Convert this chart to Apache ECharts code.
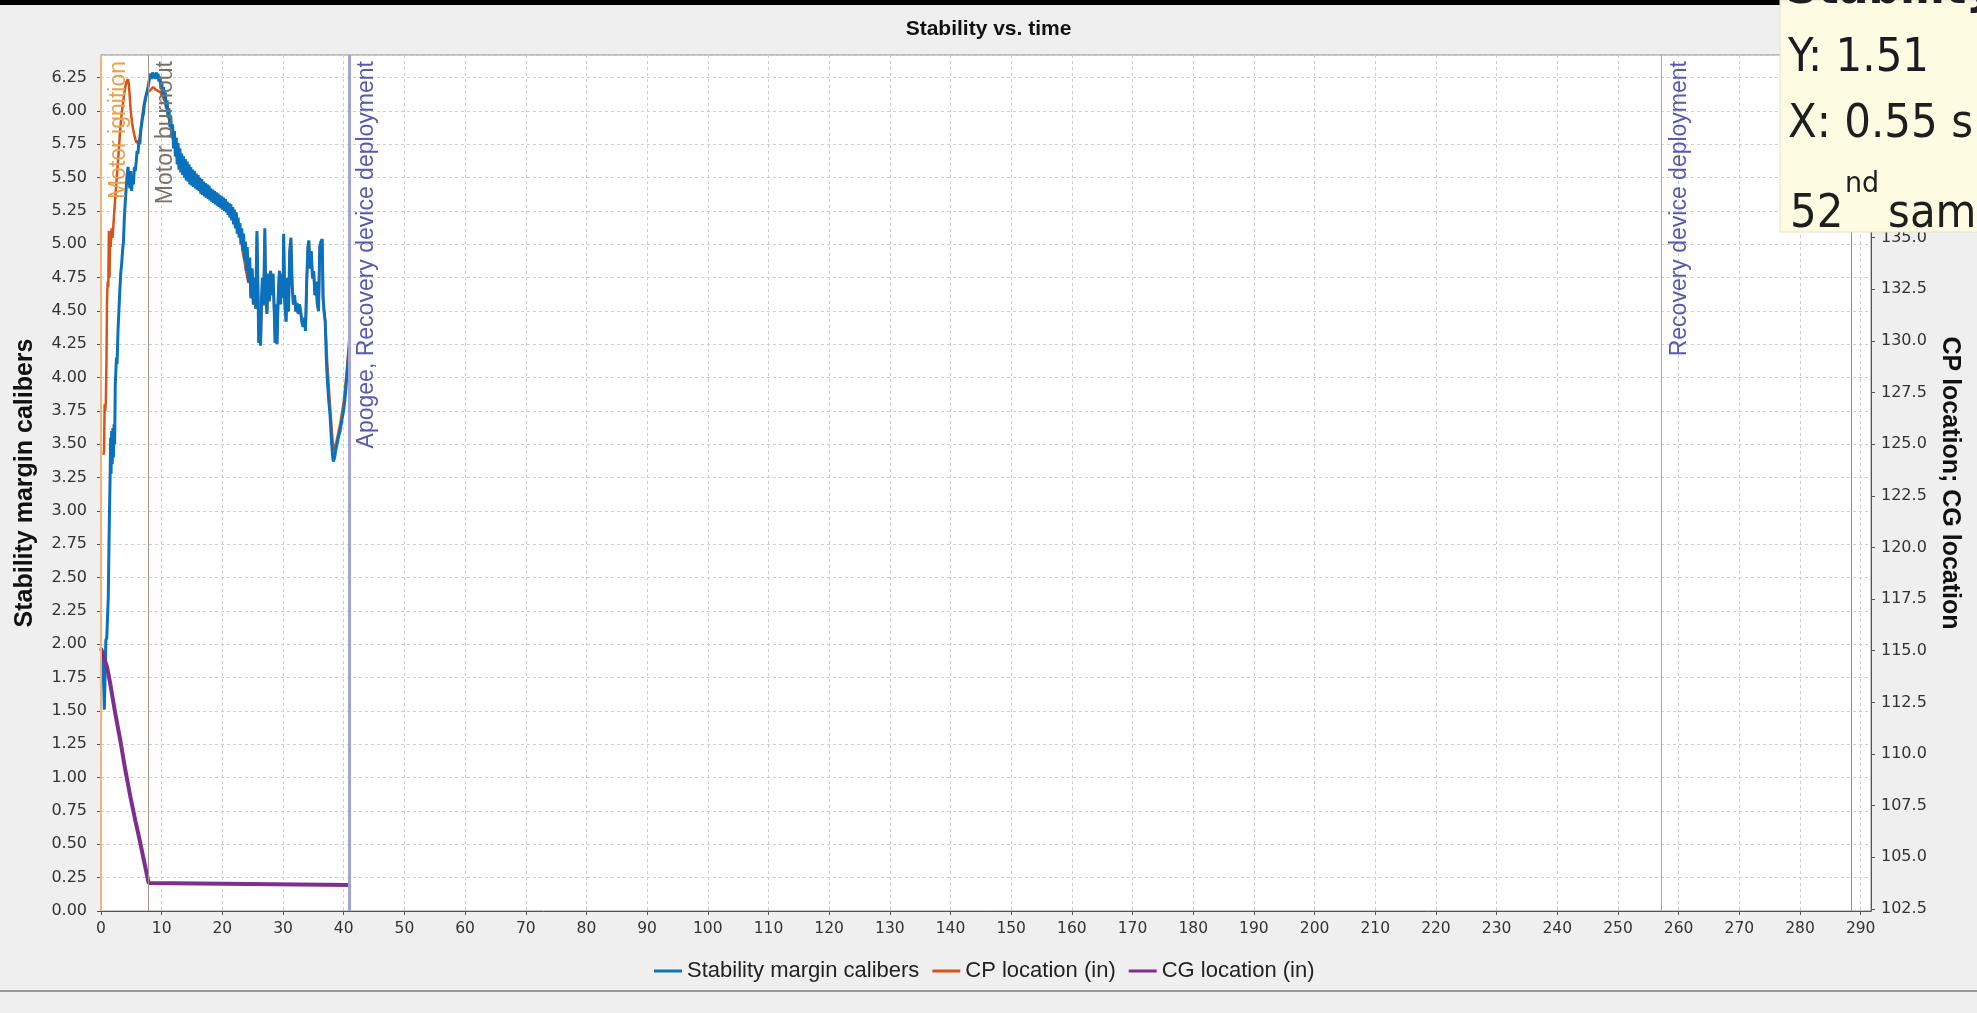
<!DOCTYPE html>
<html>
<head>
<meta charset="utf-8">
<title>Stability vs. time</title>
<script src="https://cdn.jsdelivr.net/npm/echarts@6/dist/echarts.min.js"></script>
<style>
  html, body { margin: 0; padding: 0; background: #efefef; }
  #chart { width: 1977px; height: 1013px; }
</style>
</head>
<body>
<div id="chart"></div>
<script>
// Flight time axis ticks (s)
const timeTicks = [0, 10, 20, 30, 40, 50, 60, 70, 80, 90, 100, 110, 120, 130, 140, 150, 160, 170, 180, 190, 200, 210, 220, 230, 240, 250, 260, 270, 280, 290];
// Right axis tick labels (in)
const locationTicks = [102.5, 105.0, 107.5, 110.0, 112.5, 115.0, 117.5, 120.0, 122.5, 125.0, 127.5, 130.0, 132.5, 135.0, 137.5, 140.0, 142.5];

// Stability margin (calibers) vs. time (s)
const stabilityPoints = [
  [0.30,1.95],[0.42,1.72],[0.55,1.51],[0.68,1.78],[0.80,2.03],[0.95,2.05],[1.10,2.06],[1.20,2.35],
  [1.30,2.70],[1.40,3.00],[1.50,3.25],[1.58,3.55],[1.66,3.28],[1.75,3.60],[1.85,3.35],[1.95,3.62],
  [2.05,3.40],[2.15,3.65],[2.25,3.50],[2.35,3.95],[2.45,4.05],[2.55,4.15],[2.65,4.10],[2.80,4.35],
  [2.95,4.50],[3.10,4.65],[3.25,4.78],[3.40,4.85],[3.55,4.95],[3.70,5.02],[3.85,5.20],[4.00,5.32],
  [4.15,5.42],[4.30,5.52],[4.45,5.58],[4.60,5.50],[4.75,5.42],[4.90,5.55],[5.05,5.40],[5.20,5.50],
  [5.35,5.45],[5.50,5.58],[5.65,5.55],[5.80,5.62],[5.95,5.70],[6.10,5.68],[6.25,5.78],[6.40,5.75],
  [6.55,5.85],[6.70,5.90],[6.85,5.95],[7.00,5.98],[7.15,6.05],[7.30,6.08],[7.45,6.12],[7.60,6.15],
  [7.75,6.18],[7.90,6.22],[8.05,6.26],[8.20,6.28],[8.35,6.24],[8.50,6.29],[8.65,6.25],[8.80,6.28],
  [8.95,6.24],[9.10,6.29],[9.25,6.25],[9.40,6.28],[9.55,6.22],[9.70,6.26],[9.85,6.18],[10.00,6.22],
  [10.15,6.12],[10.30,6.18],[10.45,6.08],[10.60,6.14],[10.75,6.02],[10.90,6.08],[11.05,5.95],[11.20,6.02],
  [11.35,5.88],[11.50,5.96],[11.65,5.80],[11.80,5.90],[11.95,5.72],[12.10,5.85],[12.25,5.66],[12.40,5.80],
  [12.55,5.60],[12.70,5.76],[12.85,5.56],[13.00,5.72],[13.15,5.54],[13.30,5.68],[13.45,5.52],[13.60,5.66],
  [13.75,5.50],[13.90,5.64],[14.05,5.48],[14.20,5.62],[14.35,5.47],[14.50,5.60],[14.65,5.45],[14.80,5.58],
  [14.95,5.44],[15.10,5.56],[15.25,5.43],[15.40,5.55],[15.55,5.42],[15.70,5.53],[15.85,5.41],[16.00,5.52],
  [16.15,5.40],[16.30,5.50],[16.45,5.38],[16.60,5.49],[16.75,5.37],[16.90,5.47],[17.05,5.36],[17.20,5.46],
  [17.35,5.35],[17.50,5.45],[17.65,5.34],[17.80,5.44],[17.95,5.33],[18.10,5.42],[18.25,5.32],[18.40,5.41],
  [18.55,5.31],[18.70,5.40],[18.85,5.30],[19.00,5.39],[19.15,5.29],[19.30,5.38],[19.45,5.28],[19.60,5.37],
  [19.75,5.27],[19.90,5.36],[20.05,5.26],[20.20,5.35],[20.35,5.25],[20.50,5.34],[20.65,5.24],[20.80,5.32],
  [20.95,5.22],[21.10,5.31],[21.25,5.20],[21.40,5.30],[21.55,5.18],[21.70,5.28],[21.85,5.15],[22.00,5.26],
  [22.15,5.12],[22.30,5.24],[22.45,5.08],[22.60,5.20],[22.75,5.05],[22.90,5.16],[23.05,5.00],[23.20,5.12],
  [23.35,4.95],[23.50,5.08],[23.65,4.88],[23.80,5.02],[23.95,4.80],[24.10,4.98],[24.30,4.72],[24.50,4.90],
  [24.70,4.60],[24.90,4.82],[25.10,4.55],[25.30,4.75],[25.50,4.52],[25.70,5.10],[25.85,4.70],[26.00,4.26],
  [26.15,4.50],[26.30,4.24],[26.45,4.60],[26.60,4.75],[26.80,4.55],[27.00,5.12],[27.15,4.62],[27.35,4.48],
  [27.55,4.78],[27.75,4.58],[27.95,4.80],[28.15,4.62],[28.35,4.78],[28.55,4.50],[28.70,4.26],[28.85,4.55],
  [29.00,4.25],[29.20,4.60],[29.40,4.80],[29.60,4.55],[29.80,4.78],[30.00,4.60],[30.10,5.08],[30.30,4.55],
  [30.50,4.42],[30.70,4.75],[30.90,4.50],[31.10,4.95],[31.30,5.05],[31.50,4.70],[31.70,4.55],[31.90,4.62],
  [32.10,4.50],[32.30,4.56],[32.50,4.48],[32.70,4.55],[32.90,4.50],[33.10,4.42],[33.30,4.38],[33.50,4.45],
  [33.70,4.35],[33.90,4.72],[34.10,4.98],[34.25,5.03],[34.45,4.82],[34.65,4.95],[34.85,4.75],[35.05,4.80],
  [35.25,4.62],[35.45,4.72],[35.65,4.55],[35.85,4.50],[36.05,4.98],[36.25,5.02],[36.45,5.04],[36.60,4.60],
  [36.75,4.50],[36.95,4.42],[37.15,4.12],[37.35,3.95],[37.55,3.82],[37.75,3.72],[37.95,3.55],[38.15,3.42],
  [38.30,3.37],[38.50,3.40],[38.70,3.46],[38.90,3.50],[39.10,3.55],[39.40,3.60],[39.70,3.68],[40.00,3.76],
  [40.25,3.86],[40.50,4.00],[40.70,4.12],[40.90,4.23]
];

// CP location (in) vs. time (s), right axis
const cpPoints = [
  [0.40,124.48],[0.50,124.67],[0.60,126.93],[0.70,126.61],[0.80,127.06],[0.90,128.99],[1.00,132.09],[1.10,132.87],
  [1.20,132.61],[1.30,135.32],[1.40,133.06],[1.50,134.98],[1.60,134.55],[1.75,135.45],[1.90,134.98],[2.05,135.64],
  [2.20,136.29],[2.40,137.13],[2.60,137.90],[2.80,138.68],[3.00,139.52],[3.20,140.36],[3.40,141.00],[3.60,141.45],
  [3.80,141.91],[4.00,142.29],[4.20,142.55],[4.45,142.67],[4.60,142.40],[4.75,141.78],[4.90,141.13],[5.10,140.61],
  [5.30,140.22],[5.50,139.97],[5.70,139.71],[5.90,139.58],[6.10,139.52],[6.30,139.71],[6.50,140.16],[6.70,140.61],
  [6.90,141.13],[7.10,141.51],[7.30,141.78],[7.50,141.91],[7.70,142.03],[7.90,142.10],[8.20,142.16],[8.60,142.29],
  [9.00,142.16],[9.40,142.10],[9.80,142.03],[10.50,141.65],[11.00,141.00],[11.50,140.36],[12.00,139.58],[12.50,138.94],
  [13.00,138.55],[13.50,138.29],[14.00,138.10],[15.00,137.84],[16.00,137.58],[17.00,137.26],[18.00,137.06],[19.00,136.81],
  [20.00,136.61],[21.00,136.35],[22.00,135.97],[23.00,135.19],[23.35,134.30],[23.65,133.85],[23.95,133.30],[24.30,132.80],
  [24.50,133.95],[24.70,132.05],[24.90,133.45],[25.10,131.75],[25.30,133.00],[25.50,131.55],[25.70,135.10],[25.85,132.70],
  [26.00,129.95],[26.15,131.40],[26.30,129.80],[26.60,133.00],[26.80,131.70],[27.00,135.20],[27.15,132.20],[27.35,131.30],
  [27.55,133.20],[27.75,131.90],[27.95,133.40],[28.15,132.20],[28.35,133.20],[28.55,131.40],[28.70,129.90],[28.85,131.70],
  [29.00,129.85],[29.20,132.10],[29.40,133.40],[29.60,131.80],[29.80,133.20],[30.00,132.10],[30.10,135.00],[30.30,131.80],
  [30.50,130.95],[30.70,133.00],[30.90,131.40],[31.10,134.30],[31.30,134.90],[31.50,132.70],[31.70,131.75],[31.90,132.20],
  [32.10,131.40],[32.30,131.80],[32.50,131.30],[32.70,131.75],[32.90,131.40],[33.10,130.95],[33.30,130.70],[33.50,131.10],
  [33.70,130.50],[33.90,132.80],[34.10,134.50],[34.25,134.80],[34.45,133.50],[34.65,134.30],[34.85,133.00],[35.05,133.35],
  [35.25,132.20],[35.45,132.85],[35.65,131.80],[35.85,131.45],[36.05,134.55],[36.25,134.80],[36.45,134.90],[36.60,132.10],
  [36.75,131.50],[36.95,130.95],[37.30,128.87],[37.80,126.61],[38.30,124.67],[38.80,125.12],[39.40,125.96],[40.00,127.06],
  [40.50,128.54],[40.90,130.03]
];

// CG location (in) vs. time (s), right axis
const cgPoints = [
  [0.00,115.12],[1.00,114.21],[1.50,113.44],[2.36,111.95],[3.18,110.66],[4.00,109.24],[4.83,107.95],
  [5.65,106.79],[6.48,105.69],[7.30,104.53],[7.85,103.75],[8.00,103.66],[40.90,103.66]
];

// Flight events (time in s)
const eventTimes = [0, 7.85, 40.9, 257.2, 288.5];
const eventNames = ['Motor ignition', 'Motor burnout', 'Apogee, Recovery device deployment', 'Recovery device deployment', ''];
const eventLineColors = ['#f2b47a', '#a39689', '#a3a3da', '#a0a0d6', '#8f8f8f'];
const eventLineWidths = [2, 1, 3, 1, 1];
const eventTextColors = ['#eba04a', '#7e6f65', '#5858b2', '#5858b2', '#777777'];

const seriesNames = ['Stability margin calibers', 'CP location (in)', 'CG location (in)'];
const seriesColors = ['#0a72bd', '#d95319', '#7e2f8e'];

const tickFont = '"DejaVu Sans", "Liberation Sans", sans-serif';
const textFont = '"Liberation Sans", Arial, sans-serif';
const tipFont = '"DejaVu Sans", sans-serif';

const chart = echarts.init(document.getElementById('chart'), null, { renderer: 'canvas' });

const eventLines = eventTimes.map((t, i) => ({
  xAxis: t,
  name: eventNames[i],
  lineStyle: { color: eventLineColors[i], width: eventLineWidths[i], type: 'solid' },
  label: {
    show: eventNames[i] !== '',
    color: eventTextColors[i]
  }
}));

const option = {
  animation: false,
  backgroundColor: '#efefef',
  title: {
    text: 'Stability vs. time',
    left: 'center',
    top: 19,
    padding: 0,
    textStyle: { fontFamily: textFont, fontSize: 21, fontWeight: 'bold', color: '#111111' }
  },
  legend: {
    left: 654,
    top: 960,
    padding: 0,
    itemWidth: 28,
    itemHeight: 3,
    itemGap: 13,
    icon: 'rect',
    data: seriesNames,
    selectedMode: false,
    textStyle: { fontFamily: textFont, fontSize: 22, color: '#222222' }
  },
  grid: {
    left: 101, top: 55, width: 1770, height: 856,
    containLabel: false,
    outerBoundsMode: 'none',
    show: true,
    backgroundColor: '#ffffff',
    borderColor: '#8c8c8c',
    borderWidth: 1
  },
  xAxis: {
    type: 'value',
    min: 0,
    max: 291.7,
    interval: 10,
    axisLine: { show: true, onZero: false, lineStyle: { color: '#555555', width: 1 } },
    axisTick: { show: true, inside: false, length: 4, lineStyle: { color: '#555555' } },
    axisLabel: {
      margin: 10,
      fontFamily: tickFont, fontSize: 15.5, color: '#333333',
      showMaxLabel: false,
      formatter: v => timeTicks.includes(v) ? String(v) : ''
    },
    splitLine: { show: true, lineStyle: { color: '#cfcfcf', type: [3, 3], width: 1 } }
  },
  yAxis: [
    {
      type: 'value',
      min: 0,
      max: 6.42,
      interval: 0.25,
      name: 'Stability margin calibers',
      nameLocation: 'middle',
      nameGap: 63,
      nameTextStyle: { fontFamily: textFont, fontSize: 25, fontWeight: 'bold', color: '#111111' },
      axisLine: { show: true, lineStyle: { color: '#555555', width: 1 } },
      axisTick: { show: true, inside: false, length: 4, lineStyle: { color: '#555555' } },
      axisLabel: {
        margin: 14,
        fontFamily: tickFont, fontSize: 16, color: '#333333',
        showMaxLabel: false,
        formatter: v => v.toFixed(2)
      },
      splitLine: { show: true, lineStyle: { color: '#cfcfcf', type: [3, 3], width: 1 } }
    },
    {
      type: 'value',
      position: 'right',
      min: 102.4,
      max: 143.84,
      name: 'CP location; CG location',
      nameLocation: 'middle',
      nameRotate: -90,
      nameGap: 66,
      nameTextStyle: { fontFamily: textFont, fontSize: 25, fontWeight: 'bold', color: '#111111' },
      axisLine: { show: true, lineStyle: { color: '#555555', width: 1 } },
      axisTick: { show: true, inside: false, length: 4, customValues: locationTicks, lineStyle: { color: '#555555' } },
      axisLabel: {
        margin: 10,
        customValues: locationTicks,
        fontFamily: tickFont, fontSize: 16, color: '#333333',
        formatter: v => v.toFixed(1)
      },
      splitLine: { show: false }
    }
  ],
  series: [
    {
      name: seriesNames[0],
      type: 'line',
      yAxisIndex: 0,
      data: stabilityPoints,
      showSymbol: false,
      symbol: 'none',
      silent: true,
      z: 3,
      color: seriesColors[0],
      lineStyle: { color: seriesColors[0], width: 3 },
      emphasis: { disabled: true }
    },
    {
      name: seriesNames[1],
      type: 'line',
      yAxisIndex: 1,
      data: cpPoints,
      showSymbol: false,
      symbol: 'none',
      silent: true,
      z: 2,
      color: seriesColors[1],
      lineStyle: { color: seriesColors[1], width: 2.5 },
      emphasis: { disabled: true },
      markLine: {
        silent: true,
        symbol: ['none', 'none'],
        animation: false,
        label: {
          show: true,
          position: 'insideEndBottom',
          distance: [6, 6],
          formatter: '{b}',
          fontFamily: textFont,
          fontSize: 23
        },
        data: eventLines
      }
    },
    {
      name: seriesNames[2],
      type: 'line',
      yAxisIndex: 1,
      data: cgPoints,
      showSymbol: false,
      symbol: 'none',
      silent: true,
      z: 4,
      color: seriesColors[2],
      lineStyle: { color: seriesColors[2], width: 4 },
      emphasis: { disabled: true }
    }
  ],
  graphic: [
    { type: 'rect', shape: { x: 0, y: 0, width: 1977, height: 5 }, style: { fill: '#000000' }, z: 50 },
    { type: 'rect', shape: { x: 0, y: 990, width: 1977, height: 2 }, style: { fill: '#9b9b9b' }, z: 50 },
    {
      type: 'group',
      z: 100,
      children: [
        { type: 'rect', shape: { x: 1780, y: 0, width: 200, height: 232 }, style: { fill: '#fdfce3', stroke: '#e4e2c8', lineWidth: 1 }, z: 100 },
        { type: 'text', x: 1786, y: 14, scaleY: 1.08, z: 101,
          style: { text: 'Stability margin calibers', font: 'bold 44px ' + tipFont, fill: '#1e1e1e', verticalAlign: 'bottom' } },
        { type: 'text', x: 1788, y: 59, scaleY: 1.08, z: 101,
          style: { text: 'Y: 1.51', font: '42px ' + tipFont, fill: '#1e1a24', verticalAlign: 'middle' } },
        { type: 'text', x: 1788, y: 125, scaleY: 1.08, z: 101,
          style: { text: 'X: 0.55 s', font: '42px ' + tipFont, fill: '#1e1e1e', verticalAlign: 'middle' } },
        { type: 'text', x: 1790, y: 215, scaleY: 1.08, z: 101,
          style: { text: '52', font: '42px ' + tipFont, fill: '#1e1e1e', verticalAlign: 'middle' } },
        { type: 'text', x: 1845, y: 184, scaleY: 1.08, z: 101,
          style: { text: 'nd', font: '27px ' + tipFont, fill: '#1e1e1e', verticalAlign: 'middle' } },
        { type: 'text', x: 1888, y: 215, scaleY: 1.08, z: 101,
          style: { text: 'sample', font: '42px ' + tipFont, fill: '#1e1e1e', verticalAlign: 'middle' } }
      ]
    }
  ]
};

chart.setOption(option);
</script>
</body>
</html>
